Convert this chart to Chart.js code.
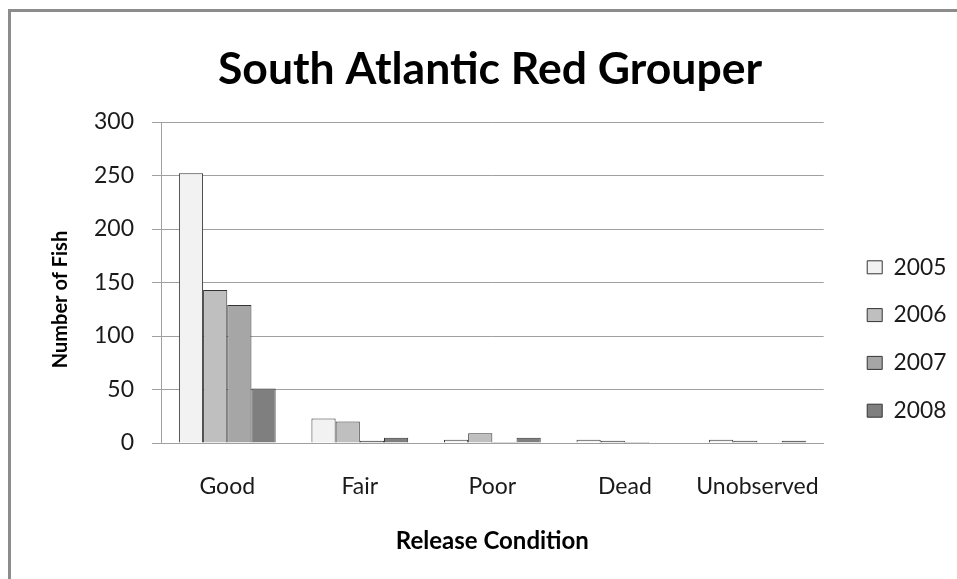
<!DOCTYPE html>
<html>
<head>
<meta charset="utf-8">
<script src="https://cdn.jsdelivr.net/npm/chart.js@4/dist/chart.umd.min.js"></script>
<style>
  html, body { margin: 0; padding: 0; background: #fff; }
  #wrap { width: 957px; height: 579px; }
</style>
</head>
<body>
<div id="wrap"><canvas id="c" width="957" height="579"></canvas></div>
<script>
// Release condition categories and yearly counts of fish
const categories = ['Good', 'Fair', 'Poor', 'Dead', 'Unobserved'];
const years = ['2005', '2006', '2007', '2008'];
const counts2005 = [252, 23, 3, 3, 3];
const counts2006 = [143, 20, 9, 2, 2];
const counts2007 = [129, 2, 1, 1, 0];
const counts2008 = [51, 5, 5, 0, 2];
const yTickValues = [0, 50, 100, 150, 200, 250, 300];

const fills = ['#f2f2f2', '#bfbfbf', '#a6a6a6', '#7f7f7f'];
const seriesValues = [counts2005, counts2006, counts2007, counts2008];

const FONT = 'Lato, "Open Sans", "DejaVu Sans", sans-serif';

// Grey frame around the chart and white background
const framePlugin = {
  id: 'frame',
  beforeDraw(chart) {
    const ctx = chart.ctx;
    ctx.save();
    ctx.fillStyle = '#ffffff';
    ctx.fillRect(0, 0, chart.width, chart.height);
    ctx.fillStyle = '#8c8c8c';
    ctx.fillRect(8, 9, 3, chart.height - 9);
    ctx.fillRect(8, 9, chart.width - 8, 3);
    ctx.restore();
  }
};

// Move the legend block away from the plot area, and lower the y-axis title a bit
const layoutTweaks = {
  id: 'layoutTweaks',
  afterLayout(chart, args, opts) {
    const lg = chart.legend;
    if (lg) {
      lg.left += opts.dx; lg.right += opts.dx;
      lg.top += opts.dy; lg.bottom += opts.dy;
    }
    const ys = chart.scales.y;
    if (ys && !ys._titleShifted) {
      const orig = ys.drawTitle;
      ys.drawTitle = function () {
        const ctx = this.ctx;
        ctx.save();
        ctx.translate(0, opts.yTitleDy);
        orig.apply(this, arguments);
        ctx.restore();
      };
      ys._titleShifted = true;
    }
  }
};

new Chart(document.getElementById('c'), {
  type: 'bar',
  data: {
    labels: categories,
    datasets: years.map((y, i) => ({
      label: y,
      data: seriesValues[i],
      backgroundColor: fills[i],
      borderColor: '#333333',
      borderWidth: 1,
      borderSkipped: 'bottom',
      categoryPercentage: 0.73,
      barPercentage: 1.0
    }))
  },
  options: {
    responsive: false,
    devicePixelRatio: 1,
    animation: false,
    layout: { padding: { left: 42, right: 19, top: 0, bottom: 15 } },
    plugins: {
      title: {
        display: true,
        text: 'South Atlantic Red Grouper',
        color: '#000',
        font: { family: FONT, size: 44.5, weight: 'bold' },
        padding: { top: 43, bottom: 25.6 }
      },
      legend: {
        position: 'right',
        labels: {
          color: '#1a1a1a',
          font: { family: FONT, size: 22.8 },
          boxWidth: 15,
          boxHeight: 13,
          padding: 25
        }
      },
      layoutTweaks: { dx: 18.5, dy: 57, yTitleDy: 17 },
      tooltip: { enabled: false }
    },
    scales: {
      x: {
        grid: { display: false, drawTicks: false },
        border: { display: true, color: '#a0a0a0', width: 1 },
        ticks: { color: '#1a1a1a', font: { family: FONT, size: 23 }, padding: 30 },
        title: {
          display: true,
          text: 'Release Condition',
          color: '#000',
          font: { family: FONT, size: 24, weight: 'bold' },
          padding: { top: 4, bottom: 8.6 }
        },
        afterFit(s) { s.height = 121; }
      },
      y: {
        min: 0,
        max: 300,
        afterBuildTicks(s) { s.ticks = yTickValues.map(v => ({ value: v })); },
        grid: { color: '#a0a0a0', lineWidth: 1, tickLength: 9, drawTicks: true },
        border: { display: true, color: '#a0a0a0', width: 1 },
        ticks: { color: '#1a1a1a', font: { family: FONT, size: 23 }, padding: 18 },
        title: {
          display: true,
          text: 'Number of Fish',
          color: '#000',
          font: { family: FONT, size: 20, weight: 'bold' },
          padding: { top: 7, bottom: 4 }
        },
        afterFit(s) { s.width = 119; }
      }
    }
  },
  plugins: [framePlugin, layoutTweaks]
});
</script>
</body>
</html>
